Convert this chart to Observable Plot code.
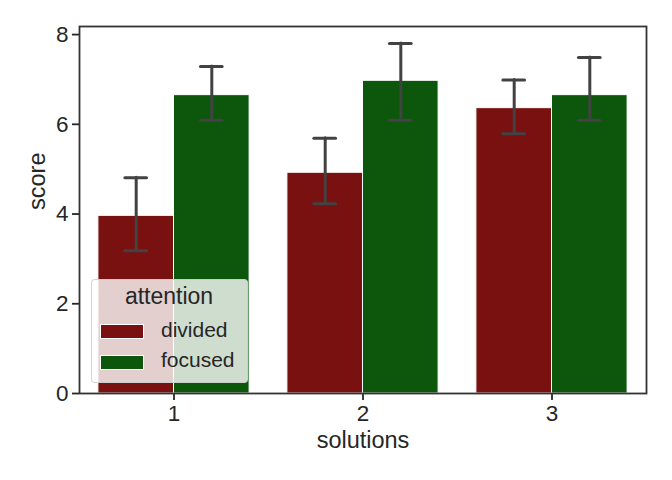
<!DOCTYPE html>
<html>
<head>
<meta charset="utf-8">
<script src="https://cdn.jsdelivr.net/npm/d3@7"></script>
<script src="https://cdn.jsdelivr.net/npm/@observablehq/plot@0.6"></script>
<style>
  body { margin: 0; background: white; }
  #wrap { position: relative; width: 672px; height: 480px; font-family: "Liberation Sans", Arial, sans-serif; color: #262626; }
  #wrap svg g[aria-label="x-axis tick label"], #wrap svg g[aria-label="y-axis tick label"] { font-size: 22.5px !important; }
  #legend { position: absolute; left: 90.5px; top: 279px; width: 155px; height: 102px;
            border: 1px solid rgba(204,204,204,0.85); border-radius: 4px; background: rgba(255,255,255,0.8); }
  #legend .t { position: absolute; white-space: nowrap; line-height: 1; }
  #legend .sw { position: absolute; box-sizing: border-box; border: 1px solid white; }
</style>
</head>
<body>
<div id="wrap"></div>
<script>
const solutions = [1, 2, 3];
const attention = ["divided", "focused"];
const dividedMean = [3.96, 4.92, 6.36];
const dividedLo   = [3.18, 4.23, 5.79];
const dividedHi   = [4.81, 5.69, 6.99];
const focusedMean = [6.65, 6.97, 6.65];
const focusedLo   = [6.09, 6.09, 6.09];
const focusedHi   = [7.29, 7.80, 7.49];
const colors = ["#7a1111", "#0d570d"];
const yTicks = [0, 2, 4, 6, 8];

const groupWidth = 0.8;
const capHalf = 0.0574;
const rows = solutions.flatMap((s, i) => [
  {solution: s, attention: attention[0], mean: dividedMean[i], lo: dividedLo[i], hi: dividedHi[i],
   x1: s - groupWidth / 2, x2: s},
  {solution: s, attention: attention[1], mean: focusedMean[i], lo: focusedLo[i], hi: focusedHi[i],
   x1: s, x2: s + groupWidth / 2}
]).map(d => ({...d, xc: (d.x1 + d.x2) / 2}));

const chart = Plot.plot({
  width: 672, height: 480,
  marginLeft: 79, marginRight: 26, marginTop: 26, marginBottom: 87,
  style: {fontFamily: '"Liberation Sans", Arial, sans-serif', fontSize: "21px", color: "#262626", background: "white"},
  x: {domain: [0.5, 3.5]},
  y: {domain: [0, 8.18]},
  color: {domain: attention, range: colors},
  marks: [
    Plot.rectY(rows, {x1: "x1", x2: "x2", y1: 0, y2: "mean", fill: "attention", stroke: "white", strokeWidth: 1}),
    Plot.ruleX(rows, {x: "xc", y1: "lo", y2: "hi", stroke: "#424242", strokeWidth: 3, strokeLinecap: "round"}),
    Plot.ruleY(rows, {y: "lo", x1: d => d.xc - capHalf, x2: d => d.xc + capHalf, stroke: "#424242", strokeWidth: 3, strokeLinecap: "round"}),
    Plot.ruleY(rows, {y: "hi", x1: d => d.xc - capHalf, x2: d => d.xc + capHalf, stroke: "#424242", strokeWidth: 3, strokeLinecap: "round"}),
    Plot.axisX({ticks: solutions, tickFormat: d => String(d), tickSize: 7, tickPadding: 5, strokeWidth: 1.8, fontSize: 22.5, label: null}),
    Plot.axisY({ticks: yTicks, tickFormat: d => String(d), tickSize: 7, tickPadding: 4, strokeWidth: 1.8, fontSize: 22.5, label: null}),
    Plot.text(["solutions"], {frameAnchor: "bottom", dy: 54, fontSize: 23.5, fill: "#262626"}),
    Plot.text(["score"], {frameAnchor: "left", rotate: -90, dx: -42, fontSize: 23.5, fill: "#262626"}),
    Plot.frame({stroke: "#333", strokeWidth: 1.8})
  ]
});

const wrap = document.getElementById("wrap");
wrap.appendChild(chart);

// legend overlay built from the color scale
const cs = chart.scale("color");
const lg = document.createElement("div");
lg.id = "legend";
const title = document.createElement("div");
title.className = "t";
title.textContent = "attention";
title.style.fontSize = "23px";
title.style.left = "0px"; title.style.width = "155px"; title.style.textAlign = "center";
title.style.top = (306 - 280 - 0.905 * 23 + 0.0) + "px";
lg.appendChild(title);
cs.domain.forEach((name, i) => {
  const sw = document.createElement("div");
  sw.className = "sw";
  sw.style.background = cs.range[i];
  sw.style.left = (99.5 - 91.5) + "px";
  sw.style.top = (323.5 + i * 31 - 280) + "px";
  sw.style.width = "44px"; sw.style.height = "15px";
  lg.appendChild(sw);
  const lb = document.createElement("div");
  lb.className = "t";
  lb.textContent = name;
  lb.style.fontSize = "21px";
  lb.style.left = (161 - 91.5) + "px";
  lb.style.top = (338 + i * 30.5 - 280 - 0.905 * 21) + "px";
  lg.appendChild(lb);
});
wrap.appendChild(lg);
</script>
</body>
</html>
